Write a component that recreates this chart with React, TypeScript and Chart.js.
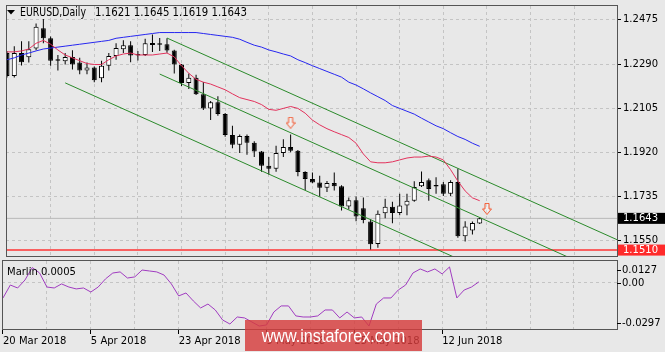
import React, { useEffect, useRef } from 'react';
import { Chart, registerables } from 'chart.js';

Chart.register(...registerables);

// ---------- data ----------
const TITLE_SYMBOL = 'EURUSD,Daily';
const DATE_LABELS = ['20 Mar 2018', '5 Apr 2018', '23 Apr 2018', '9 May 2018', '25 May 2018', '12 Jun 2018'];
const PRICE_TICKS = [1.2475, 1.229, 1.2105, 1.192, 1.1735, 1.155];
const MARLIN_TICKS = [0.0127, 0, -0.0297];
const MARLIN_TICK_LABELS = ['0.0127', '0.00', '-0.0297'];

const OPEN = [
  1.2336, 1.224, 1.2336, 1.2318, 1.2355, 1.244, 1.2398, 1.2308, 1.2302, 1.232,
  1.2296, 1.2263, 1.2275, 1.223, 1.2283, 1.2324, 1.2352, 1.2369, 1.233, 1.2328,
  1.2378, 1.2375, 1.2373, 1.2347, 1.2288, 1.221, 1.2232, 1.2163, 1.2104, 1.213,
  1.208, 1.1993, 1.1952, 1.1988, 1.196, 1.1923, 1.1864, 1.1851, 1.1917, 1.1942,
  1.1926, 1.1837, 1.1808, 1.1793, 1.1771, 1.1791, 1.1778, 1.1693, 1.1719, 1.1685,
  1.163, 1.1535, 1.1664, 1.1692, 1.1665, 1.1697, 1.1717, 1.1778, 1.1803, 1.1779,
  1.1786, 1.1746, 1.1795, 1.1568, 1.1592, 1.1621,
];
const HIGH = [
  1.2345, 1.2365, 1.2386, 1.2386, 1.246, 1.2479, 1.2405, 1.2328, 1.2336, 1.2348,
  1.2316, 1.2296, 1.228, 1.2304, 1.2336, 1.2377, 1.239, 1.2385, 1.2345, 1.2396,
  1.2414, 1.2399, 1.2398, 1.235, 1.229, 1.225, 1.2245, 1.2215, 1.2135, 1.2155,
  1.2085, 1.2031, 1.1995, 1.1995, 1.1966, 1.1925, 1.19, 1.1947, 1.1975, 1.1995,
  1.193, 1.184, 1.1835, 1.1822, 1.18, 1.1835, 1.1782, 1.173, 1.1735, 1.173,
  1.164, 1.1676, 1.1725, 1.1713, 1.1746, 1.1746, 1.1799, 1.1839, 1.181, 1.1815,
  1.1795, 1.1803, 1.1852, 1.1631, 1.163, 1.1645,
];
const LOW = [
  1.2234, 1.2234, 1.2284, 1.2296, 1.2348, 1.2377, 1.2283, 1.2263, 1.2288, 1.2267,
  1.2247, 1.2247, 1.2214, 1.2214, 1.2263, 1.2308, 1.2336, 1.2298, 1.2305, 1.2324,
  1.234, 1.2345, 1.2337, 1.225, 1.2198, 1.2185, 1.216, 1.2097, 1.2055, 1.2073,
  1.1985, 1.1937, 1.1917, 1.191, 1.19, 1.1838, 1.1827, 1.1838, 1.19, 1.192,
  1.182, 1.1762, 1.179, 1.1735, 1.1754, 1.176, 1.1676, 1.168, 1.1631, 1.1622,
  1.1512, 1.152, 1.1643, 1.1623, 1.1656, 1.1656, 1.1713, 1.1774, 1.1717, 1.1746,
  1.1737, 1.1737, 1.1562, 1.1546, 1.1575, 1.1619,
];
const CLOSE = [
  1.224, 1.2336, 1.2297, 1.2352, 1.2446, 1.2398, 1.2304, 1.2304, 1.232, 1.2288,
  1.2263, 1.2275, 1.2222, 1.2283, 1.2324, 1.2357, 1.2369, 1.2326, 1.2326, 1.2377,
  1.237, 1.2371, 1.2347, 1.2288, 1.221, 1.2232, 1.2163, 1.2104, 1.213, 1.208,
  1.1993, 1.1952, 1.1988, 1.196, 1.1923, 1.1864, 1.1851, 1.1917, 1.1942, 1.1926,
  1.1837, 1.1808, 1.1793, 1.1771, 1.1791, 1.1778, 1.1693, 1.1719, 1.1651, 1.1636,
  1.1534, 1.1662, 1.1692, 1.1665, 1.1697, 1.1717, 1.1774, 1.1795, 1.1766, 1.1777,
  1.1746, 1.1795, 1.1568, 1.1609, 1.1624, 1.1643,
];
const MA_FAST = [
  1.2341, 1.2341, 1.2345, 1.2353, 1.2377, 1.2389, 1.2373, 1.2349, 1.2328, 1.2316,
  1.2304, 1.2292, 1.2288, 1.2288, 1.2308, 1.2324, 1.2332, 1.2336, 1.2328, 1.2328,
  1.2328, 1.2332, 1.2336, 1.232, 1.2283, 1.2251, 1.2226, 1.2214, 1.2206, 1.2194,
  1.2182, 1.2165, 1.2149, 1.2141, 1.2133, 1.212, 1.21, 1.2096, 1.2104, 1.2112,
  1.2104, 1.2084, 1.2055, 1.2035, 1.2019, 1.2006, 1.1994, 1.1982, 1.1958, 1.1913,
  1.188, 1.1876, 1.1876, 1.188, 1.1888, 1.1896, 1.19, 1.19, 1.1904, 1.19,
  1.1888, 1.1847, 1.1799, 1.1758, 1.1729, 1.1717,
];
const MA_SLOW = [
  1.2308, 1.2316, 1.2328, 1.2336, 1.2345, 1.2353, 1.2357, 1.2361, 1.2365, 1.2369,
  1.2373, 1.2377, 1.2381, 1.2385, 1.2389, 1.2398, 1.2402, 1.2406, 1.241, 1.2414,
  1.2418, 1.2422, 1.2422, 1.2422, 1.2422, 1.2422, 1.2422, 1.2418, 1.2414, 1.241,
  1.2406, 1.2402, 1.2394, 1.2381, 1.2369, 1.2361, 1.2349, 1.2341, 1.2332, 1.2324,
  1.2308, 1.2296, 1.2283, 1.2271, 1.2259, 1.2247, 1.2235, 1.2214, 1.2202, 1.2186,
  1.2169, 1.2153, 1.2137, 1.2116, 1.2104, 1.2092, 1.208, 1.2063, 1.2047, 1.2031,
  1.2019, 1.2002, 1.1986, 1.1974, 1.1958, 1.1945,
];
const MARLIN = [
  -0.0098, -0.0015, -0.0034, 0.0017, 0.0097, 0.0062, -0.0028, -0.0034, -0.0008, -0.0028,
  -0.004, -0.0034, -0.006, -0.0028, 0.0024, 0.0062, 0.0069, 0.003, 0.0037, 0.0081,
  0.0075, 0.0069, 0.0049, -0.0008, -0.0085, -0.0066, -0.0117, -0.0162, -0.0137, -0.0175,
  -0.0239, -0.0265, -0.022, -0.0226, -0.0252, -0.0278, -0.0271, -0.0188, -0.0149, -0.0149,
  -0.0213, -0.022, -0.022, -0.0213, -0.0175, -0.0175, -0.0226, -0.0188, -0.0226, -0.022,
  -0.0278, -0.0137, -0.0098, -0.0098, -0.0047, -0.0015, 0.0062, 0.0088, 0.0069, 0.0088,
  0.0056, 0.0101, -0.0098, -0.0047, -0.0028, 0.0005,
];
const CHANNEL_UPPER = [{ x: 22, y: 1.2399 }, { x: 84, y: 1.1552 }];
const CHANNEL_MIDDLE = [{ x: 21, y: 1.2248 }, { x: 84, y: 1.1387 }];
const CHANNEL_LOWER = [{ x: 8, y: 1.2211 }, { x: 84, y: 1.1173 }];
const SUPPORT_LEVEL = 1.151;
const ARROWS = [{ x: 39, y: 1.2044 }, { x: 66, y: 1.1683 }];

// ---------- layout / style ----------
const XMIN = -0.1366;
const XMAX = 83.88;
const YMIN = 1.14852;
const YMAX = 1.25333;
const MARLIN_MIN = -0.0297;
const MARLIN_MAX = 0.0139;
const BG = '#e8e8e8';
const GRID = '#c4c4c4';
const FRAME = '#555555';
const FONT = "'DejaVu Sans'";

const N = OPEN.length;
const IDX = OPEN.map((_, i) => i);
const LAST_CLOSE = CLOSE[N - 1];
const OHLC_TEXT = [OPEN[N - 1], HIGH[N - 1], LOW[N - 1], CLOSE[N - 1]].map((v) => v.toFixed(4)).join(' ');
const GRID_STEPS: number[] = [];
for (let v = 0; v <= XMAX; v += 6) GRID_STEPS.push(v);

function zeroPad(s: any) {
  s.paddingLeft = 0;
  s.paddingRight = 0;
  s.paddingTop = 0;
  s.paddingBottom = 0;
}

function makeArrow(): HTMLCanvasElement {
  const c = document.createElement('canvas');
  c.width = 10;
  c.height = 12;
  const g = c.getContext('2d')!;
  g.beginPath();
  g.moveTo(3, 0.5);
  g.lineTo(7, 0.5);
  g.lineTo(7, 6);
  g.lineTo(9.5, 6);
  g.lineTo(5, 11.5);
  g.lineTo(0.5, 6);
  g.lineTo(3, 6);
  g.closePath();
  g.fillStyle = 'rgba(255,255,255,0.35)';
  g.fill();
  g.strokeStyle = '#f2552c';
  g.lineWidth = 1;
  g.stroke();
  return c;
}

const mainPlugin = {
  id: 'mtMain',
  afterDraw(chart: any) {
    const { ctx, chartArea: a, scales } = chart;
    ctx.save();
    ctx.strokeStyle = FRAME;
    ctx.lineWidth = 1;
    ctx.strokeRect(a.left + 0.5, a.top - 0.5, a.right - a.left, a.bottom - a.top + 1);
    // title
    ctx.fillStyle = '#000';
    ctx.beginPath();
    ctx.moveTo(7, 10);
    ctx.lineTo(15, 10);
    ctx.lineTo(11, 14.5);
    ctx.closePath();
    ctx.fill();
    ctx.font = `12px ${FONT}`;
    ctx.textBaseline = 'middle';
    ctx.textAlign = 'left';
    ctx.fillText(TITLE_SYMBOL, 20, 12.5, 66);
    ctx.fillText(OHLC_TEXT, 95, 12.5, 152);
    // price boxes
    const box = (v: number, color: string) => {
      const y = scales.y.getPixelForValue(v);
      ctx.fillStyle = color;
      ctx.fillRect(a.right + 1, y - 5.5, 665 - a.right, 11);
      ctx.fillStyle = '#fff';
      ctx.font = `10px ${FONT}`;
      ctx.fillText(v.toFixed(4), a.right + 6, y + 0.5);
    };
    box(LAST_CLOSE, '#000000');
    box(SUPPORT_LEVEL, '#ff2a2a');
    ctx.restore();
  },
};

const subPlugin = {
  id: 'mtSub',
  afterDraw(chart: any) {
    const { ctx, chartArea: a, scales } = chart;
    ctx.save();
    ctx.strokeStyle = FRAME;
    ctx.lineWidth = 1;
    ctx.strokeRect(a.left + 0.5, a.top - 0.5, a.right - a.left, a.bottom - a.top + 1);
    ctx.fillStyle = '#000';
    ctx.font = `10px ${FONT}`;
    ctx.textBaseline = 'middle';
    ctx.textAlign = 'left';
    ctx.fillText(`Marlin ${MARLIN[N - 1].toFixed(4)}`, 7, a.top + 11);
    const offsets = [7, 0.5, -6];
    MARLIN_TICKS.forEach((v, i) => {
      const y = Math.round(scales.y.getPixelForValue(v) + offsets[i]) + 0.5;
      ctx.strokeStyle = '#000';
      ctx.beginPath();
      ctx.moveTo(a.right, y);
      ctx.lineTo(a.right + 4, y);
      ctx.stroke();
      ctx.fillText(MARLIN_TICK_LABELS[i], a.right + 5, y);
    });
    ctx.restore();
  },
};

export default function App() {
  const mainRef = useRef<HTMLCanvasElement>(null);
  const subRef = useRef<HTMLCanvasElement>(null);

  useEffect(() => {
    const arrow = makeArrow();
    const line = (label: string, data: any[], color: string, order: number, width = 1) => ({
      type: 'line',
      label,
      data,
      borderColor: color,
      borderWidth: width,
      pointRadius: 0,
      tension: 0,
      fill: false,
      order,
    });

    const main = new Chart(mainRef.current!, {
      type: 'bar',
      data: {
        datasets: [
          line('Bid', [{ x: XMIN, y: LAST_CLOSE }, { x: XMAX, y: LAST_CLOSE }], '#b8b8b8', 9),
          line('Support', [{ x: XMIN, y: SUPPORT_LEVEL }, { x: XMAX, y: SUPPORT_LEVEL }], '#ff3535', 8, 1.5),
          {
            type: 'bar',
            label: 'Wicks',
            data: IDX.map((i) => ({ x: i, y: [LOW[i], HIGH[i]] })),
            backgroundColor: '#000',
            borderWidth: 0,
            barThickness: 1,
            maxBarThickness: 1,
            grouped: false,
            inflateAmount: 0,
            order: 7,
          },
          {
            type: 'bar',
            label: 'Bodies',
            data: IDX.map((i) => ({ x: i, y: [OPEN[i], CLOSE[i]] })),
            backgroundColor: IDX.map((i) => (CLOSE[i] >= OPEN[i] ? '#ffffff' : '#000000')),
            borderColor: '#000',
            borderWidth: 1,
            borderSkipped: false,
            barThickness: 5,
            maxBarThickness: 5,
            minBarLength: 1.5,
            grouped: false,
            inflateAmount: 0,
            order: 6,
          },
          line('Channel lower', CHANNEL_LOWER, '#2a8a2a', 5),
          line('Channel middle', CHANNEL_MIDDLE, '#2a8a2a', 4),
          line('Channel upper', CHANNEL_UPPER, '#2a8a2a', 3),
          line('MA slow', IDX.map((i) => ({ x: i, y: MA_SLOW[i] })), '#2626f0', 2),
          line('MA fast', IDX.map((i) => ({ x: i, y: MA_FAST[i] })), '#e2325c', 1),
          {
            type: 'line',
            label: 'Arrows',
            data: ARROWS,
            showLine: false,
            pointStyle: arrow,
            pointRadius: 5,
            order: 0,
          },
        ],
      } as any,
      options: {
        responsive: false,
        animation: false,
        events: [],
        layout: { padding: { left: 2, top: 2, right: 0, bottom: 3 } },
        plugins: { legend: { display: false }, tooltip: { enabled: false } },
        scales: {
          x: {
            type: 'linear',
            min: XMIN,
            max: XMAX,
            offset: false,
            afterBuildTicks: (s: any) => {
              s.ticks = GRID_STEPS.map((v) => ({ value: v }));
            },
            afterFit: (s: any) => {
              s.height = 0;
              zeroPad(s);
            },
            ticks: { display: false },
            grid: { color: GRID, lineWidth: 1, drawTicks: false, offset: false },
            border: { display: false, dash: [3, 3] },
          },
          y: {
            type: 'linear',
            position: 'right',
            min: YMIN,
            max: YMAX,
            afterBuildTicks: (s: any) => {
              s.ticks = PRICE_TICKS.map((v) => ({ value: v }));
            },
            afterFit: (s: any) => {
              s.width = 48;
              zeroPad(s);
            },
            ticks: {
              callback: (v: any) => Number(v).toFixed(4),
              font: { family: FONT, size: 10 },
              color: '#000',
              padding: 2,
            },
            grid: { color: GRID, drawTicks: true, tickLength: 4, tickColor: '#000', tickBorderDash: [] },
            border: { display: false, dash: [3, 3] },
          },
        },
      } as any,
      plugins: [mainPlugin],
    });

    const sub = new Chart(subRef.current!, {
      type: 'line',
      data: {
        datasets: [
          {
            label: 'Marlin',
            data: IDX.map((i) => ({ x: i, y: MARLIN[i] })),
            borderColor: '#a03cc0',
            borderWidth: 1,
            pointRadius: 0,
            tension: 0,
            fill: false,
          },
        ],
      } as any,
      options: {
        responsive: false,
        animation: false,
        events: [],
        layout: { padding: { left: 2, top: 3, right: 0, bottom: 0 } },
        plugins: { legend: { display: false }, tooltip: { enabled: false } },
        scales: {
          x: {
            type: 'linear',
            min: XMIN,
            max: XMAX,
            offset: false,
            afterBuildTicks: (s: any) => {
              s.ticks = GRID_STEPS.map((v) => ({ value: v }));
            },
            afterFit: (s: any) => {
              s.height = 23;
              zeroPad(s);
            },
            ticks: {
              autoSkip: false,
              maxRotation: 0,
              minRotation: 0,
              align: 'start',
              padding: 1,
              font: { family: FONT, size: 10 },
              color: '#000',
              callback: (v: any) => (Number(v) % 12 === 0 ? DATE_LABELS[Number(v) / 12] || '' : ''),
            },
            grid: {
              color: GRID,
              drawTicks: true,
              tickLength: 5,
              tickBorderDash: [],
              tickColor: (c: any) =>
                c.tick && c.tick.value % 12 === 0 && DATE_LABELS[c.tick.value / 12] ? '#000' : 'rgba(0,0,0,0)',
            },
            border: { display: false, dash: [3, 3] },
          },
          y: {
            type: 'linear',
            position: 'right',
            min: MARLIN_MIN,
            max: MARLIN_MAX,
            afterBuildTicks: (s: any) => {
              s.ticks = [{ value: 0 }];
            },
            afterFit: (s: any) => {
              s.width = 48;
              zeroPad(s);
            },
            ticks: { display: false },
            grid: { color: GRID, drawTicks: false },
            border: { display: false, dash: [3, 3] },
          },
        },
      } as any,
      plugins: [subPlugin],
    });

    return () => {
      main.destroy();
      sub.destroy();
    };
  }, []);

  return (
    <div
      style={{
        position: 'fixed',
        left: 0,
        top: 0,
        width: 665,
        height: 352,
        background: BG,
        overflow: 'hidden',
      }}
    >
      <canvas
        ref={mainRef}
        width={665}
        height={262}
        style={{ position: 'absolute', left: 0, top: 0, width: 665, height: 262 }}
      />
      <canvas
        ref={subRef}
        width={665}
        height={94}
        style={{ position: 'absolute', left: 0, top: 258, width: 665, height: 94 }}
      />
      <div
        style={{
          position: 'absolute',
          left: 245,
          top: 320,
          width: 177,
          height: 31,
          background: 'rgba(214,60,60,0.82)',
          display: 'flex',
          alignItems: 'center',
          justifyContent: 'center',
        }}
      >
        <span
          style={{
            color: '#fff',
            fontFamily: "'Liberation Sans', Arial, sans-serif",
            fontSize: 19,
            display: 'inline-block',
            transform: 'scaleX(0.85)',
            whiteSpace: 'nowrap',
            lineHeight: '31px',
          }}
        >
          www.instaforex.com
        </span>
      </div>
    </div>
  );
}
